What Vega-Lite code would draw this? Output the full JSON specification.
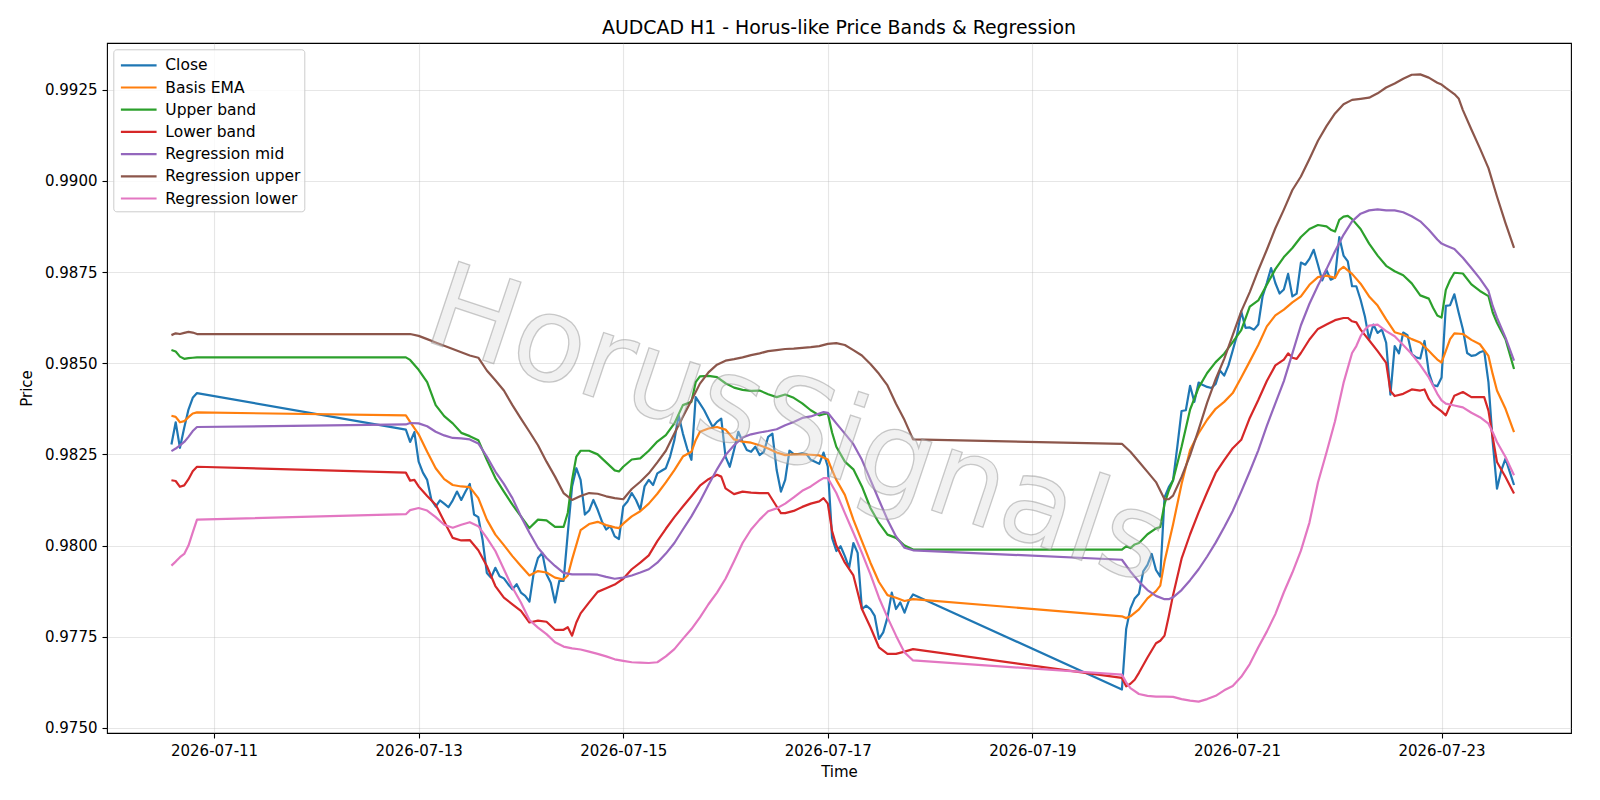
{
  "$schema": "https://vega.github.io/schema/vega-lite/v6.json",
  "width": 1464,
  "height": 690,
  "autosize": {"type": "none"},
  "padding": {"left": 107, "top": 43, "right": 29, "bottom": 67},
  "background": "white",
  "title": {"text": "AUDCAD H1 - Horus-like Price Bands & Regression", "font": "DejaVu Sans", "fontSize": 18.9, "fontWeight": "normal", "color": "#000000", "offset": 5, "anchor": "middle", "frame": "group"},
  "config": {
    "view": {"stroke": "#000000", "strokeWidth": 1.1},
    "axis": {"labelFont": "DejaVu Sans", "labelFontSize": 15, "labelColor": "#000000", "titleFont": "DejaVu Sans", "titleFontSize": 15, "titleFontWeight": "normal", "titleColor": "#000000", "tickColor": "#000000", "tickSize": 5, "tickWidth": 1.1, "domain": false, "gridColor": "#b0b0b0", "gridOpacity": 0.32, "gridWidth": 1.1, "labelPadding": 5}
  },
  "data": {"values": [
    {"t":"2026-07-10T14:00","c":0.98277,"e":0.98356,"u":0.98536,"l":0.98179,"m":0.98259,"h":0.98577,"w":0.97945},
    {"t":"2026-07-10T15:00","c":0.98338,"e":0.98353,"u":0.98532,"l":0.98177,"m":0.98266,"h":0.98582,"w":0.97956},
    {"t":"2026-07-10T16:00","c":0.98268,"e":0.98338,"u":0.98518,"l":0.98161,"m":0.98275,"h":0.98580,"w":0.97968},
    {"t":"2026-07-10T17:00","c":0.98323,"e":0.98341,"u":0.98512,"l":0.98165,"m":0.98284,"h":0.98583,"w":0.97977},
    {"t":"2026-07-10T18:00","c":0.98373,"e":0.98352,"u":0.98514,"l":0.98182,"m":0.98298,"h":0.98586,"w":0.98000},
    {"t":"2026-07-10T19:00","c":0.98405,"e":0.98362,"u":0.98515,"l":0.98204,"m":0.98314,"h":0.98584,"w":0.98036},
    {"t":"2026-07-10T20:00","c":0.98418,"e":0.98365,"u":0.98516,"l":0.98216,"m":0.98325,"h":0.98580,"w":0.98071},
    {"t":"2026-07-12T21:00","c":0.98318,"e":0.98357,"u":0.98516,"l":0.98200,"m":0.98332,"h":0.98580,"w":0.98086},
    {"t":"2026-07-12T22:00","c":0.98284,"e":0.98339,"u":0.98509,"l":0.98178,"m":0.98336,"h":0.98580,"w":0.98097},
    {"t":"2026-07-12T23:00","c":0.98311,"l":0.98180},
    {"t":"2026-07-13T00:00","c":0.98230,"e":0.98305,"u":0.98482,"l":0.98162,"m":0.98335,"h":0.98575,"w":0.98103},
    {"t":"2026-07-13T01:00","c":0.98200},
    {"t":"2026-07-13T02:00","c":0.98180,"e":0.98257,"u":0.98448,"l":0.98136,"m":0.98327,"h":0.98566,"w":0.98096},
    {"t":"2026-07-13T03:00","c":0.98125},
    {"t":"2026-07-13T04:00","c":0.98107,"e":0.98212,"u":0.98385,"l":0.98112,"m":0.98312,"h":0.98557,"w":0.98078},
    {"t":"2026-07-13T05:00","c":0.98124},
    {"t":"2026-07-13T06:00","c":0.98115,"e":0.98182,"u":0.98355,"l":0.98066,"m":0.98302,"h":0.98548,"w":0.98057},
    {"t":"2026-07-13T07:00","c":0.98105},
    {"t":"2026-07-13T08:00","c":0.98124,"e":0.98166,"u":0.98335,"l":0.98021,"m":0.98295,"h":0.98539,"w":0.98049},
    {"t":"2026-07-13T09:00","c":0.98148},
    {"t":"2026-07-13T10:00","c":0.98125,"e":0.98162,"u":0.98309,"l":0.98014,"m":0.98294,"h":0.98530,"w":0.98057},
    {"t":"2026-07-13T11:00","c":0.98148},
    {"t":"2026-07-13T12:00","c":0.98169,"e":0.98160,"u":0.98300,"l":0.98015,"m":0.98291,"h":0.98521,"w":0.98064},
    {"t":"2026-07-13T13:00","c":0.98085},
    {"t":"2026-07-13T14:00","c":0.98078,"e":0.98130,"u":0.98289,"l":0.97987,"m":0.98280,"h":0.98515,"w":0.98053},
    {"t":"2026-07-13T15:00","c":0.98016},
    {"t":"2026-07-13T16:00","c":0.97925,"e":0.98071,"u":0.98235,"l":0.97944,"m":0.98244,"h":0.98480,"w":0.98021},
    {"t":"2026-07-13T17:00","c":0.97912},
    {"t":"2026-07-13T18:00","c":0.97939,"e":0.98030,"u":0.98185,"l":0.97889,"m":0.98203,"h":0.98453,"w":0.97985},
    {"t":"2026-07-13T19:00","c":0.97916},
    {"t":"2026-07-13T20:00","c":0.97910,"e":0.98001,"u":0.98148,"l":0.97857,"m":0.98169,"h":0.98425,"w":0.97935},
    {"t":"2026-07-13T21:00","c":0.97894},
    {"t":"2026-07-13T22:00","c":0.97880,"e":0.97971,"u":0.98112,"l":0.97839,"m":0.98130,"h":0.98385,"w":0.97885},
    {"t":"2026-07-13T23:00","c":0.97894},
    {"t":"2026-07-14T00:00","c":0.97871,"e":0.97944,"u":0.98080,"l":0.97821,"m":0.98080,"h":0.98348,"w":0.97844},
    {"t":"2026-07-14T01:00","c":0.97862},
    {"t":"2026-07-14T02:00","c":0.97846,"e":0.97918,"u":0.98048,"l":0.97789,"m":0.98035,"h":0.98312,"w":0.97796},
    {"t":"2026-07-14T03:00","c":0.97925},
    {"t":"2026-07-14T04:00","c":0.97966,"e":0.97930,"u":0.98071,"l":0.97794,"m":0.97994,"h":0.98275,"w":0.97775},
    {"t":"2026-07-14T05:00","c":0.97980},
    {"t":"2026-07-14T06:00","c":0.97921,"e":0.97926,"u":0.98069,"l":0.97791,"m":0.97966,"h":0.98230,"w":0.97757},
    {"t":"2026-07-14T07:00","c":0.97898},
    {"t":"2026-07-14T08:00","c":0.97844,"e":0.97912,"u":0.98051,"l":0.97769,"m":0.97944,"h":0.98189,"w":0.97735},
    {"t":"2026-07-14T09:00","c":0.97903},
    {"t":"2026-07-14T10:00","c":0.97903,"e":0.97907,"u":0.98051,"l":0.97769,"m":0.97925,"h":0.98144,"w":0.97723},
    {"t":"2026-07-14T11:00","c":0.98035,"e":0.97918,"u":0.98090,"l":0.97776},
    {"t":"2026-07-14T12:00","c":0.98162,"e":0.97962,"u":0.98180,"l":0.97753,"m":0.97921,"h":0.98125,"w":0.97718},
    {"t":"2026-07-14T13:00","c":0.98212,"u":0.98244,"l":0.97789},
    {"t":"2026-07-14T14:00","c":0.98180,"e":0.98042,"u":0.98260,"l":0.97814,"m":0.97921,"h":0.98136,"w":0.97715},
    {"t":"2026-07-14T15:00","c":0.98085},
    {"t":"2026-07-14T16:00","c":0.98096,"e":0.98059,"u":0.98260,"l":0.97844,"m":0.97921,"h":0.98144,"w":0.97709},
    {"t":"2026-07-14T17:00","c":0.98125},
    {"t":"2026-07-14T18:00","c":0.98098,"e":0.98065,"u":0.98250,"l":0.97873,"m":0.97920,"h":0.98142,"w":0.97703},
    {"t":"2026-07-14T19:00","c":0.98066},
    {"t":"2026-07-14T20:00","c":0.98044,"e":0.98056,"u":0.98228,"l":0.97883,"m":0.97914,"h":0.98135,"w":0.97696},
    {"t":"2026-07-14T21:00","c":0.98053},
    {"t":"2026-07-14T22:00","c":0.98025,"e":0.98050,"u":0.98206,"l":0.97893,"m":0.97909,"h":0.98130,"w":0.97688},
    {"t":"2026-07-14T23:00","c":0.98018,"e":0.98048,"u":0.98203},
    {"t":"2026-07-15T00:00","c":0.98107,"e":0.98060,"u":0.98216,"l":0.97909,"m":0.97912,"h":0.98127,"w":0.97684},
    {"t":"2026-07-15T01:00","c":0.98121},
    {"t":"2026-07-15T02:00","c":0.98144,"e":0.98080,"u":0.98236,"l":0.97935,"m":0.97918,"h":0.98155,"w":0.97680},
    {"t":"2026-07-15T03:00","c":0.98125},
    {"t":"2026-07-15T04:00","c":0.98098,"e":0.98094,"u":0.98239,"l":0.97953,"m":0.97926,"h":0.98175,"w":0.97679},
    {"t":"2026-07-15T05:00","c":0.98162},
    {"t":"2026-07-15T06:00","c":0.98180,"e":0.98115,"u":0.98260,"l":0.97973,"m":0.97935,"h":0.98198,"w":0.97678},
    {"t":"2026-07-15T07:00","c":0.98166},
    {"t":"2026-07-15T08:00","c":0.98198,"e":0.98142,"u":0.98285,"l":0.98012,"m":0.97953,"h":0.98228,"w":0.97680},
    {"t":"2026-07-15T09:00","c":0.98205},
    {"t":"2026-07-15T10:00","c":0.98212,"e":0.98173,"u":0.98303,"l":0.98046,"m":0.97978,"h":0.98260,"w":0.97696},
    {"t":"2026-07-15T11:00","c":0.98244},
    {"t":"2026-07-15T12:00","c":0.98289,"e":0.98207,"u":0.98335,"l":0.98078,"m":0.98007,"h":0.98307,"w":0.97716},
    {"t":"2026-07-15T13:00","c":0.98357},
    {"t":"2026-07-15T14:00","c":0.98307,"e":0.98244,"u":0.98385,"l":0.98107,"m":0.98044,"h":0.98353,"w":0.97744},
    {"t":"2026-07-15T15:00","c":0.98266},
    {"t":"2026-07-15T16:00","c":0.98235,"e":0.98257,"u":0.98394,"l":0.98135,"m":0.98080,"h":0.98398,"w":0.97771},
    {"t":"2026-07-15T17:00","c":0.98407,"e":0.98289,"u":0.98448},
    {"t":"2026-07-15T18:00","c":0.98389,"e":0.98312,"u":0.98464,"l":0.98164,"m":0.98121,"h":0.98444,"w":0.97803},
    {"t":"2026-07-15T19:00","c":0.98371},
    {"t":"2026-07-15T20:00","c":0.98348,"e":0.98321,"u":0.98465,"l":0.98182,"m":0.98166,"h":0.98475,"w":0.97839},
    {"t":"2026-07-15T21:00","c":0.98325},
    {"t":"2026-07-15T22:00","c":0.98339,"e":0.98325,"u":0.98462,"l":0.98194,"m":0.98209,"h":0.98496,"w":0.97871},
    {"t":"2026-07-15T23:00","c":0.98348,"l":0.98189},
    {"t":"2026-07-16T00:00","c":0.98244,"e":0.98318,"u":0.98445,"l":0.98157,"m":0.98248,"h":0.98507,"w":0.97909},
    {"t":"2026-07-16T01:00","c":0.98216},
    {"t":"2026-07-16T02:00","c":0.98262,"e":0.98291,"u":0.98433,"l":0.98141,"m":0.98275,"h":0.98511,"w":0.97957},
    {"t":"2026-07-16T03:00","c":0.98312},
    {"t":"2026-07-16T04:00","c":0.98285,"e":0.98285,"u":0.98427,"l":0.98148,"m":0.98296,"h":0.98516,"w":0.98007},
    {"t":"2026-07-16T05:00","c":0.98262},
    {"t":"2026-07-16T06:00","c":0.98257,"e":0.98282,"u":0.98424,"l":0.98145,"m":0.98305,"h":0.98522,"w":0.98044},
    {"t":"2026-07-16T07:00","c":0.98271},
    {"t":"2026-07-16T08:00","c":0.98248,"e":0.98275,"u":0.98425,"l":0.98144,"m":0.98310,"h":0.98527,"w":0.98071},
    {"t":"2026-07-16T09:00","c":0.98257},
    {"t":"2026-07-16T10:00","c":0.98298,"e":0.98266,"u":0.98415,"l":0.98144,"m":0.98314,"h":0.98533,"w":0.98094},
    {"t":"2026-07-16T11:00","c":0.98307},
    {"t":"2026-07-16T12:00","c":0.98207,"e":0.98255,"u":0.98407,"l":0.98107,"m":0.98319,"h":0.98536,"w":0.98102},
    {"t":"2026-07-16T13:00","c":0.98148,"l":0.98089},
    {"t":"2026-07-16T14:00","c":0.98180,"e":0.98248,"u":0.98414,"l":0.98089,"m":0.98330,"h":0.98539,"w":0.98115},
    {"t":"2026-07-16T15:00","c":0.98260},
    {"t":"2026-07-16T16:00","c":0.98251,"e":0.98250,"u":0.98405,"l":0.98095,"m":0.98339,"h":0.98540,"w":0.98132},
    {"t":"2026-07-16T17:00","c":0.98251},
    {"t":"2026-07-16T18:00","c":0.98253,"e":0.98250,"u":0.98390,"l":0.98106,"m":0.98350,"h":0.98542,"w":0.98150},
    {"t":"2026-07-16T19:00","c":0.98251},
    {"t":"2026-07-16T20:00","c":0.98235,"e":0.98249,"u":0.98371,"l":0.98115,"m":0.98354,"h":0.98544,"w":0.98162},
    {"t":"2026-07-16T21:00","c":0.98230},
    {"t":"2026-07-16T22:00","c":0.98224,"e":0.98247,"u":0.98357,"l":0.98121,"m":0.98362,"h":0.98547,"w":0.98178},
    {"t":"2026-07-16T23:00","c":0.98255,"u":0.98360,"l":0.98130,"m":0.98366,"w":0.98185},
    {"t":"2026-07-17T00:00","c":0.98216,"e":0.98236,"u":0.98362,"l":0.98115,"m":0.98364,"h":0.98553,"w":0.98185},
    {"t":"2026-07-17T01:00","c":0.98021,"e":0.98207,"u":0.98310,"l":0.98040},
    {"t":"2026-07-17T02:00","c":0.97985,"e":0.98180,"u":0.98271,"l":0.98000,"m":0.98335,"h":0.98555,"w":0.98144},
    {"t":"2026-07-17T03:00","c":0.97998},
    {"t":"2026-07-17T04:00","c":0.97971,"e":0.98139,"u":0.98230,"l":0.97953,"m":0.98307,"h":0.98550,"w":0.98089},
    {"t":"2026-07-17T05:00","c":0.97939},
    {"t":"2026-07-17T06:00","c":0.98007,"e":0.98071,"u":0.98209,"l":0.97918,"m":0.98278,"h":0.98536,"w":0.98035},
    {"t":"2026-07-17T07:00","c":0.97980},
    {"t":"2026-07-17T08:00","c":0.97826,"e":0.98012,"u":0.98162,"l":0.97826,"m":0.98235,"h":0.98521,"w":0.97980},
    {"t":"2026-07-17T09:00","c":0.97835},
    {"t":"2026-07-17T10:00","c":0.97826,"e":0.97953,"u":0.98103,"l":0.97776,"m":0.98180,"h":0.98498,"w":0.97921},
    {"t":"2026-07-17T11:00","c":0.97807},
    {"t":"2026-07-17T12:00","c":0.97744,"e":0.97900,"u":0.98062,"l":0.97721,"m":0.98125,"h":0.98471,"w":0.97857},
    {"t":"2026-07-17T13:00","c":0.97762},
    {"t":"2026-07-17T14:00","c":0.97803,"e":0.97864,"u":0.98030,"l":0.97703,"m":0.98071,"h":0.98439,"w":0.97803},
    {"t":"2026-07-17T15:00","c":0.97871},
    {"t":"2026-07-17T16:00","c":0.97826,"e":0.97857,"u":0.98021,"l":0.97703,"m":0.98025,"h":0.98389,"w":0.97753},
    {"t":"2026-07-17T17:00","c":0.97844},
    {"t":"2026-07-17T18:00","c":0.97816,"e":0.97848,"u":0.98000,"l":0.97709,"m":0.97994,"h":0.98344,"w":0.97707},
    {"t":"2026-07-17T19:00","c":0.97848},
    {"t":"2026-07-17T20:00","c":0.97866,"e":0.97853,"u":0.97989,"l":0.97716,"m":0.97987,"h":0.98291,"w":0.97685},
    {"t":"2026-07-19T21:00","c":0.97605,"e":0.97806,"u":0.97989,"l":0.97637,"m":0.97961,"h":0.98279,"w":0.97646},
    {"t":"2026-07-19T22:00","c":0.97771,"e":0.97801,"u":0.97998,"l":0.97614,"w":0.97625},
    {"t":"2026-07-19T23:00","c":0.97827,"e":0.97806,"u":0.97993,"l":0.97621,"m":0.97929,"h":0.98257,"w":0.97609},
    {"t":"2026-07-20T00:00","c":0.97855,"u":0.98003,"l":0.97632},
    {"t":"2026-07-20T01:00","c":0.97868,"e":0.97825,"u":0.98007,"l":0.97651,"m":0.97901,"h":0.98230,"w":0.97593},
    {"t":"2026-07-20T02:00","c":0.97929},
    {"t":"2026-07-20T03:00","c":0.97947,"e":0.97855,"u":0.98031,"l":0.97693,"m":0.97878,"h":0.98202,"w":0.97588},
    {"t":"2026-07-20T04:00","c":0.97977},
    {"t":"2026-07-20T05:00","c":0.97933,"e":0.97875,"u":0.98047,"l":0.97732,"m":0.97862,"h":0.98174,"w":0.97586},
    {"t":"2026-07-20T06:00","c":0.97915,"e":0.97890,"u":0.98051,"l":0.97739},
    {"t":"2026-07-20T07:00","c":0.98132,"e":0.97956,"u":0.98114,"l":0.97753,"m":0.97853,"h":0.98127,"w":0.97586},
    {"t":"2026-07-20T08:00","c":0.98160,"u":0.98151,"l":0.97806,"m":0.97853,"h":0.98127},
    {"t":"2026-07-20T09:00","c":0.98179,"e":0.98058,"u":0.98179,"l":0.97864,"m":0.97858,"h":0.98137,"w":0.97585},
    {"t":"2026-07-20T10:00","c":0.98271},
    {"t":"2026-07-20T11:00","c":0.98369,"e":0.98169,"u":0.98271,"l":0.97964,"m":0.97878,"h":0.98188,"w":0.97579},
    {"t":"2026-07-20T12:00","c":0.98371},
    {"t":"2026-07-20T13:00","c":0.98438,"e":0.98262,"u":0.98373,"l":0.98031,"m":0.97905,"h":0.98248,"w":0.97575},
    {"t":"2026-07-20T14:00","c":0.98394},
    {"t":"2026-07-20T15:00","c":0.98447,"e":0.98308,"u":0.98433,"l":0.98091,"m":0.97935,"h":0.98318,"w":0.97572},
    {"t":"2026-07-20T16:00","c":0.98440},
    {"t":"2026-07-20T17:00","c":0.98435,"e":0.98345,"u":0.98473,"l":0.98146,"m":0.97970,"h":0.98392,"w":0.97579},
    {"t":"2026-07-20T18:00","c":0.98432},
    {"t":"2026-07-20T19:00","c":0.98443,"e":0.98375,"u":0.98503,"l":0.98199,"m":0.98008,"h":0.98456,"w":0.97588},
    {"t":"2026-07-20T20:00","c":0.98480},
    {"t":"2026-07-20T21:00","c":0.98466,"e":0.98394,"u":0.98526,"l":0.98234,"m":0.98050,"h":0.98512,"w":0.97603},
    {"t":"2026-07-20T22:00","c":0.98494},
    {"t":"2026-07-20T23:00","c":0.98535,"e":0.98418,"u":0.98558,"l":0.98267,"m":0.98095,"h":0.98577,"w":0.97615},
    {"t":"2026-07-21T00:00","c":0.98577},
    {"t":"2026-07-21T01:00","c":0.98642,"e":0.98461,"u":0.98591,"l":0.98290,"m":0.98148,"h":0.98642,"w":0.97640},
    {"t":"2026-07-21T02:00","c":0.98597},
    {"t":"2026-07-21T03:00","c":0.98598,"e":0.98505,"u":0.98655,"l":0.98350,"m":0.98203,"h":0.98695,"w":0.97675},
    {"t":"2026-07-21T04:00","c":0.98592},
    {"t":"2026-07-21T05:00","c":0.98606,"e":0.98550,"u":0.98672,"l":0.98399,"m":0.98261,"h":0.98755,"w":0.97721},
    {"t":"2026-07-21T06:00","c":0.98683},
    {"t":"2026-07-21T07:00","c":0.98720,"e":0.98601,"u":0.98715,"l":0.98451,"m":0.98328,"h":0.98811,"w":0.97764},
    {"t":"2026-07-21T08:00","c":0.98761},
    {"t":"2026-07-21T09:00","c":0.98720,"e":0.98631,"u":0.98758,"l":0.98494,"m":0.98390,"h":0.98870,"w":0.97812},
    {"t":"2026-07-21T10:00","c":0.98691},
    {"t":"2026-07-21T11:00","c":0.98702,"e":0.98647,"u":0.98791,"l":0.98510,"m":0.98451,"h":0.98921,"w":0.97872},
    {"t":"2026-07-21T12:00","c":0.98745,"l":0.98527},
    {"t":"2026-07-21T13:00","c":0.98683,"e":0.98667,"u":0.98816,"l":0.98515,"m":0.98527,"h":0.98975,"w":0.97926},
    {"t":"2026-07-21T14:00","c":0.98691,"l":0.98512},
    {"t":"2026-07-21T15:00","c":0.98776,"e":0.98683,"u":0.98846,"l":0.98528,"m":0.98604,"h":0.99012,"w":0.97986},
    {"t":"2026-07-21T16:00","c":0.98770},
    {"t":"2026-07-21T17:00","c":0.98786,"e":0.98715,"u":0.98868,"l":0.98565,"m":0.98663,"h":0.99060,"w":0.98063},
    {"t":"2026-07-21T18:00","c":0.98811},
    {"t":"2026-07-21T19:00","c":0.98770,"e":0.98736,"u":0.98879,"l":0.98594,"m":0.98713,"h":0.99110,"w":0.98173},
    {"t":"2026-07-21T20:00","c":0.98727},
    {"t":"2026-07-21T21:00","c":0.98755,"e":0.98740,"u":0.98875,"l":0.98606,"m":0.98758,"h":0.99150,"w":0.98255},
    {"t":"2026-07-21T22:00","c":0.98729,"u":0.98866},
    {"t":"2026-07-21T23:00","c":0.98735,"e":0.98734,"u":0.98861,"l":0.98618,"m":0.98807,"h":0.99185,"w":0.98341},
    {"t":"2026-07-22T00:00","c":0.98846,"e":0.98755,"u":0.98893},
    {"t":"2026-07-22T01:00","c":0.98795,"e":0.98764,"u":0.98902,"l":0.98624,"m":0.98852,"h":0.99210,"w":0.98446},
    {"t":"2026-07-22T02:00","c":0.98779,"u":0.98904,"l":0.98624},
    {"t":"2026-07-22T03:00","c":0.98711,"e":0.98745,"u":0.98895,"l":0.98615,"m":0.98889,"h":0.99222,"w":0.98528},
    {"t":"2026-07-22T04:00","c":0.98711,"l":0.98612,"w":0.98547},
    {"t":"2026-07-22T05:00","c":0.98674,"e":0.98718,"u":0.98868,"l":0.98592,"m":0.98910,"h":0.99225,"w":0.98574},
    {"t":"2026-07-22T06:00","c":0.98629,"w":0.98592},
    {"t":"2026-07-22T07:00","c":0.98565,"e":0.98683,"u":0.98828,"l":0.98563,"m":0.98919,"h":0.99228,"w":0.98603},
    {"t":"2026-07-22T08:00","c":0.98606},
    {"t":"2026-07-22T09:00","c":0.98583,"e":0.98658,"u":0.98795,"l":0.98533,"m":0.98922,"h":0.99240,"w":0.98606},
    {"t":"2026-07-22T10:00","c":0.98592},
    {"t":"2026-07-22T11:00","c":0.98556,"e":0.98620,"u":0.98767,"l":0.98501,"m":0.98919,"h":0.99256,"w":0.98588},
    {"t":"2026-07-22T12:00","c":0.98414,"l":0.98424},
    {"t":"2026-07-22T13:00","c":0.98547,"e":0.98585,"u":0.98752,"l":0.98410,"m":0.98919,"h":0.99267,"w":0.98574},
    {"t":"2026-07-22T14:00","c":0.98527},
    {"t":"2026-07-22T15:00","c":0.98584,"e":0.98578,"u":0.98741,"l":0.98416,"m":0.98914,"h":0.99280,"w":0.98550},
    {"t":"2026-07-22T16:00","c":0.98577},
    {"t":"2026-07-22T17:00","c":0.98525,"e":0.98566,"u":0.98719,"l":0.98428,"m":0.98903,"h":0.99291,"w":0.98525},
    {"t":"2026-07-22T18:00","c":0.98516},
    {"t":"2026-07-22T19:00","c":0.98513,"e":0.98557,"u":0.98686,"l":0.98425,"m":0.98889,"h":0.99292,"w":0.98495},
    {"t":"2026-07-22T20:00","c":0.98561,"l":0.98428},
    {"t":"2026-07-22T21:00","c":0.98475,"e":0.98534,"u":0.98677,"l":0.98402,"m":0.98866,"h":0.99283,"w":0.98461},
    {"t":"2026-07-22T22:00","c":0.98440,"e":0.98522,"u":0.98652,"l":0.98386},
    {"t":"2026-07-22T23:00","c":0.98437,"e":0.98510,"u":0.98631,"l":0.98377,"m":0.98839,"h":0.99269,"w":0.98416},
    {"t":"2026-07-23T00:00","c":0.98461,"e":0.98502,"u":0.98625,"l":0.98368,"m":0.98828,"h":0.99264,"w":0.98398},
    {"t":"2026-07-23T01:00","c":0.98657,"e":0.98534,"u":0.98701,"l":0.98357,"m":0.98823,"h":0.99255,"w":0.98389},
    {"t":"2026-07-23T02:00","c":0.98659,"e":0.98566,"u":0.98728,"l":0.98384},
    {"t":"2026-07-23T03:00","c":0.98689,"e":0.98582,"u":0.98748,"l":0.98411,"m":0.98813,"h":0.99238,"w":0.98384},
    {"t":"2026-07-23T04:00","c":0.98639,"h":0.99226},
    {"t":"2026-07-23T05:00","c":0.98593,"e":0.98580,"u":0.98746,"l":0.98421,"m":0.98789,"h":0.99194,"w":0.98379},
    {"t":"2026-07-23T06:00","c":0.98528},
    {"t":"2026-07-23T07:00","c":0.98520,"e":0.98564,"u":0.98716,"l":0.98407,"m":0.98761,"h":0.99141,"w":0.98364},
    {"t":"2026-07-23T08:00","c":0.98522},
    {"t":"2026-07-23T09:00","c":0.98530,"e":0.98552,"u":0.98698,"l":0.98407,"m":0.98732,"h":0.99089,"w":0.98352},
    {"t":"2026-07-23T10:00","c":0.98534,"l":0.98407},
    {"t":"2026-07-23T11:00","c":0.98448,"e":0.98520,"u":0.98684,"l":0.98370,"m":0.98698,"h":0.99035,"w":0.98334},
    {"t":"2026-07-23T12:00","c":0.98284,"e":0.98470,"u":0.98639,"l":0.98297,"m":0.98657,"w":0.98311},
    {"t":"2026-07-23T13:00","c":0.98156,"e":0.98425,"u":0.98611,"l":0.98229,"m":0.98625,"h":0.98957,"w":0.98284},
    {"t":"2026-07-23T14:00","c":0.98206},
    {"t":"2026-07-23T15:00","c":0.98238,"e":0.98375,"u":0.98566,"l":0.98188,"m":0.98570,"h":0.98884,"w":0.98243},
    {"t":"2026-07-23T16:00","c":0.98202},
    {"t":"2026-07-23T17:00","c":0.98166,"e":0.98311,"u":0.98484,"l":0.98143,"m":0.98507,"h":0.98816,"w":0.98193}
  ]},
  "layer": [
    {
      "transform": [
        {"fold": ["c", "e", "u", "l", "m", "h", "w"], "as": ["s", "v"]},
        {"filter": {"field": "v", "valid": true}}
      ],
      "mark": {"type": "line", "strokeWidth": 2.2, "strokeJoin": "round", "clip": true},
      "encoding": {
        "x": {"field": "t", "type": "temporal",
          "scale": {"domain": [{"year": 2026, "month": 7, "date": 9, "hours": 22, "minutes": 53}, {"year": 2026, "month": 7, "date": 24, "hours": 6, "minutes": 22}]},
          "axis": {"title": "Time", "format": "%Y-%m-%d", "labelAngle": 0, "titlePadding": 6,
            "values": [{"year": 2026, "month": 7, "date": 11}, {"year": 2026, "month": 7, "date": 13}, {"year": 2026, "month": 7, "date": 15}, {"year": 2026, "month": 7, "date": 17}, {"year": 2026, "month": 7, "date": 19}, {"year": 2026, "month": 7, "date": 21}, {"year": 2026, "month": 7, "date": 23}]}},
        "y": {"field": "v", "type": "quantitative",
          "scale": {"domain": [0.97486, 0.99378], "nice": false, "zero": false},
          "axis": {"title": "Price", "format": ".4f", "titlePadding": 10,
            "values": [0.975, 0.9775, 0.98, 0.9825, 0.985, 0.9875, 0.99, 0.9925]}},
        "color": {"field": "s", "type": "nominal",
          "scale": {"domain": ["c", "e", "u", "l", "m", "h", "w"], "range": ["#1f77b4", "#ff7f0e", "#2ca02c", "#d62728", "#9467bd", "#8c564b", "#e377c2"]},
          "legend": {"orient": "none", "legendX": 6.3, "legendY": 6.3, "title": null, "direction": "vertical",
            "symbolType": "M-0.764,0H2.48", "symbolSize": 484, "symbolStrokeWidth": 2.2,
            "labelFont": "DejaVu Sans", "labelFontSize": 15.5, "labelColor": "#000000", "labelOffset": 23.5, "labelLimit": 400,
            "padding": 3.5, "rowPadding": 1.2, "fillColor": "rgba(255,255,255,0.8)", "strokeColor": "#cccccc", "cornerRadius": 3,
            "labelExpr": "datum.label == 'c' ? 'Close' : datum.label == 'e' ? 'Basis EMA' : datum.label == 'u' ? 'Upper band' : datum.label == 'l' ? 'Lower band' : datum.label == 'm' ? 'Regression mid' : datum.label == 'h' ? 'Regression upper' : 'Regression lower'"}}
      }
    },
    {
      "data": {"values": [{"w": "HorusSignals"}]},
      "mark": {"type": "text", "angle": 18.5, "align": "center", "baseline": "middle", "font": "DejaVu Sans", "fontSize": 118, "fill": "#d8d8d8", "fillOpacity": 0.35, "stroke": "#8c8c8c", "strokeOpacity": 0.45, "strokeWidth": 1.3},
      "encoding": {
        "x": {"datum": {"year": 2026, "month": 7, "date": 16, "hours": 16, "minutes": 40}, "type": "temporal", "axis": {"title": "Time"}},
        "y": {"datum": 0.98322, "type": "quantitative", "axis": {"title": "Price"}},
        "text": {"field": "w", "type": "nominal"}
      }
    }
  ]
}
